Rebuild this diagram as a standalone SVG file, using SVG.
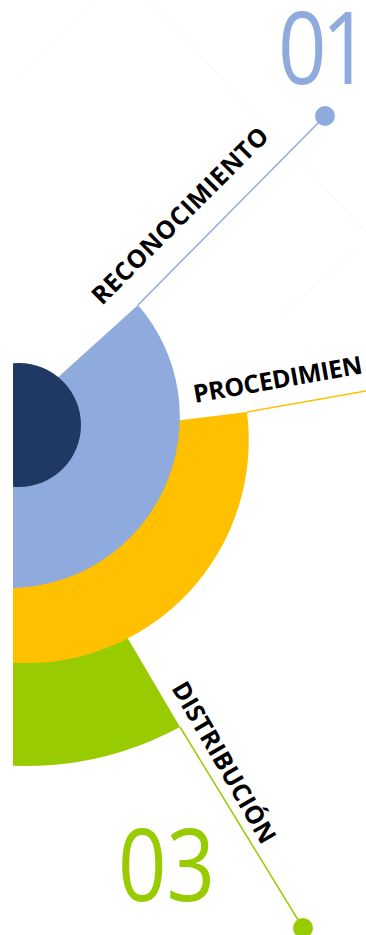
<svg xmlns="http://www.w3.org/2000/svg" width="366" height="935" viewBox="0 0 366 935">
  <style>
    .lbl { font-family: "Open Sans", "Liberation Sans", sans-serif; font-weight: 700; font-size: 25px; fill: #000; }
    .num { font-family: "Open Sans", "Liberation Sans", sans-serif; font-weight: 500; font-size: 100px; }
    .bg { stroke: #f5f5f5; stroke-width: 1; fill: none; }
    .conn { stroke-width: 1.5; fill: none; }
  </style>
  <defs>
    <clipPath id="leftClip">
      <rect x="13" y="0" width="353" height="935"/>
    </clipPath>
  </defs>
  <rect width="366" height="935" fill="#ffffff"/>
  <g id="background">
    <line class="bg" x1="15" y1="80" x2="92" y2="3"/>
    <line class="bg" x1="148" y1="0" x2="366" y2="232"/>
    <line class="bg" x1="357" y1="247" x2="280" y2="317"/>
  </g>
  <g clip-path="url(#leftClip)">
    <g id="node-distribucion">
      <path d="M 13 600 L 127 637 L 180 727 A 326 326 0 0 1 13 765.8 Z" fill="#99CC00"/>
    </g>
    <g id="node-procedimiento">
      <path d="M 13 432 L 100 430 L 247 412 A 223 223 0 0 1 13 662.7 Z" fill="#FFC000"/>
    </g>
    <g id="node-reconocimiento">
      <path d="M 13 418 L 138 305 A 171 171 0 0 1 13 588 Z" fill="#8FAADC"/>
    </g>
    <g id="node-core">
      <circle cx="19" cy="425" r="62" fill="#203864"/>
    </g>
  </g>
  <g id="connectors">
    <line class="conn" x1="138" y1="305" x2="325" y2="116" stroke="#8FAADC"/>
    <circle cx="325" cy="116" r="10" fill="#8FAADC"/>
    <line class="conn" x1="247" y1="412" x2="366" y2="391" stroke="#FFC000"/>
    <line class="conn" x1="180" y1="727" x2="303" y2="928" stroke="#99CC00"/>
    <circle cx="303" cy="928" r="10" fill="#99CC00"/>
  </g>
  <g id="label-reconocimiento">
    <text class="lbl" transform="translate(102,306) rotate(-45)" textLength="238" lengthAdjust="spacing">RECONOCIMIENTO</text>
    <text class="num" fill="#8FAADC" letter-spacing="-6" transform="translate(278,84) scale(0.85,1)">01</text>
  </g>
  <g id="label-procedimiento">
    <text class="lbl" transform="translate(195,403) rotate(-10)" textLength="171" lengthAdjust="spacing">PROCEDIMIEN</text>
  </g>
  <g id="label-distribucion">
    <text class="lbl" transform="translate(171,688) rotate(60)" textLength="182" lengthAdjust="spacing">DISTRIBUCIÓN</text>
    <text class="num" fill="#99CC00" transform="translate(118,901) scale(0.85,1)">03</text>
  </g>
</svg>
